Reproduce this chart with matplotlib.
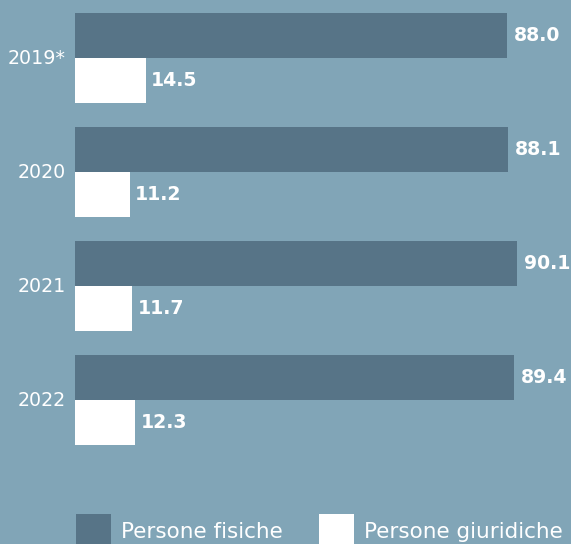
import matplotlib
matplotlib.use("Agg")
import matplotlib.pyplot as plt
from matplotlib.patches import Patch
import numpy as np

years = ["2019*", "2020", "2021", "2022"]
fisiche = [88.0, 88.1, 90.1, 89.4]
giuridiche = [14.5, 11.2, 11.7, 12.3]
series_names = ["Persone fisiche", "Persone giuridiche"]

BG = "#81a5b7"
DARK = "#577487"
WHITE = "#ffffff"

W, H = 571, 544
fig = plt.figure(figsize=(W / 100, H / 100), dpi=100, facecolor=BG)
ax = fig.add_axes([75 / W, 0, (W - 75) / W, 1])
ax.set_facecolor(BG)

pitch = 114.0
y0 = 58.0
ax.set_xlim(0, (W - 75) / 4.91)
ax.set_ylim((H - y0) / pitch, -y0 / pitch)

pos = np.arange(len(years))
h = 45 / pitch
ax.barh(pos - h / 2, fisiche, height=h, color=DARK, linewidth=0)
ax.barh(pos + h / 2, giuridiche, height=h, color=WHITE, linewidth=0)

for i in range(len(years)):
    ax.annotate(f"{fisiche[i]:.1f}", (fisiche[i], pos[i] - h / 2), xytext=(7, 0),
                textcoords="offset pixels", ha="left", va="center",
                color="white", fontsize=13.6, fontweight="bold")
    ax.annotate(f"{giuridiche[i]:.1f}", (giuridiche[i], pos[i] + h / 2), xytext=(5, 0),
                textcoords="offset pixels", ha="left", va="center",
                color="white", fontsize=13.6, fontweight="bold")
    ax.annotate(years[i], (0, pos[i]), xytext=(-9, 0), textcoords="offset pixels",
                ha="right", va="center", color="white", fontsize=13.7,
                annotation_clip=False)

ax.set_xticks([])
ax.set_yticks([])
for s in ax.spines.values():
    s.set_visible(False)

handles = [Patch(facecolor=DARK, edgecolor="none"), Patch(facecolor=WHITE, edgecolor="none")]
fig.legend(handles, series_names, loc="upper left",
           bbox_to_anchor=(76 / W, 1 - 514 / H), ncol=2, frameon=False,
           fontsize=15.5, labelcolor="white", handlelength=1.63, handleheight=2.13,
           handletextpad=0.47, columnspacing=1.67, borderpad=0, borderaxespad=0)

fig.savefig("out.png", dpi=100, facecolor=BG)
